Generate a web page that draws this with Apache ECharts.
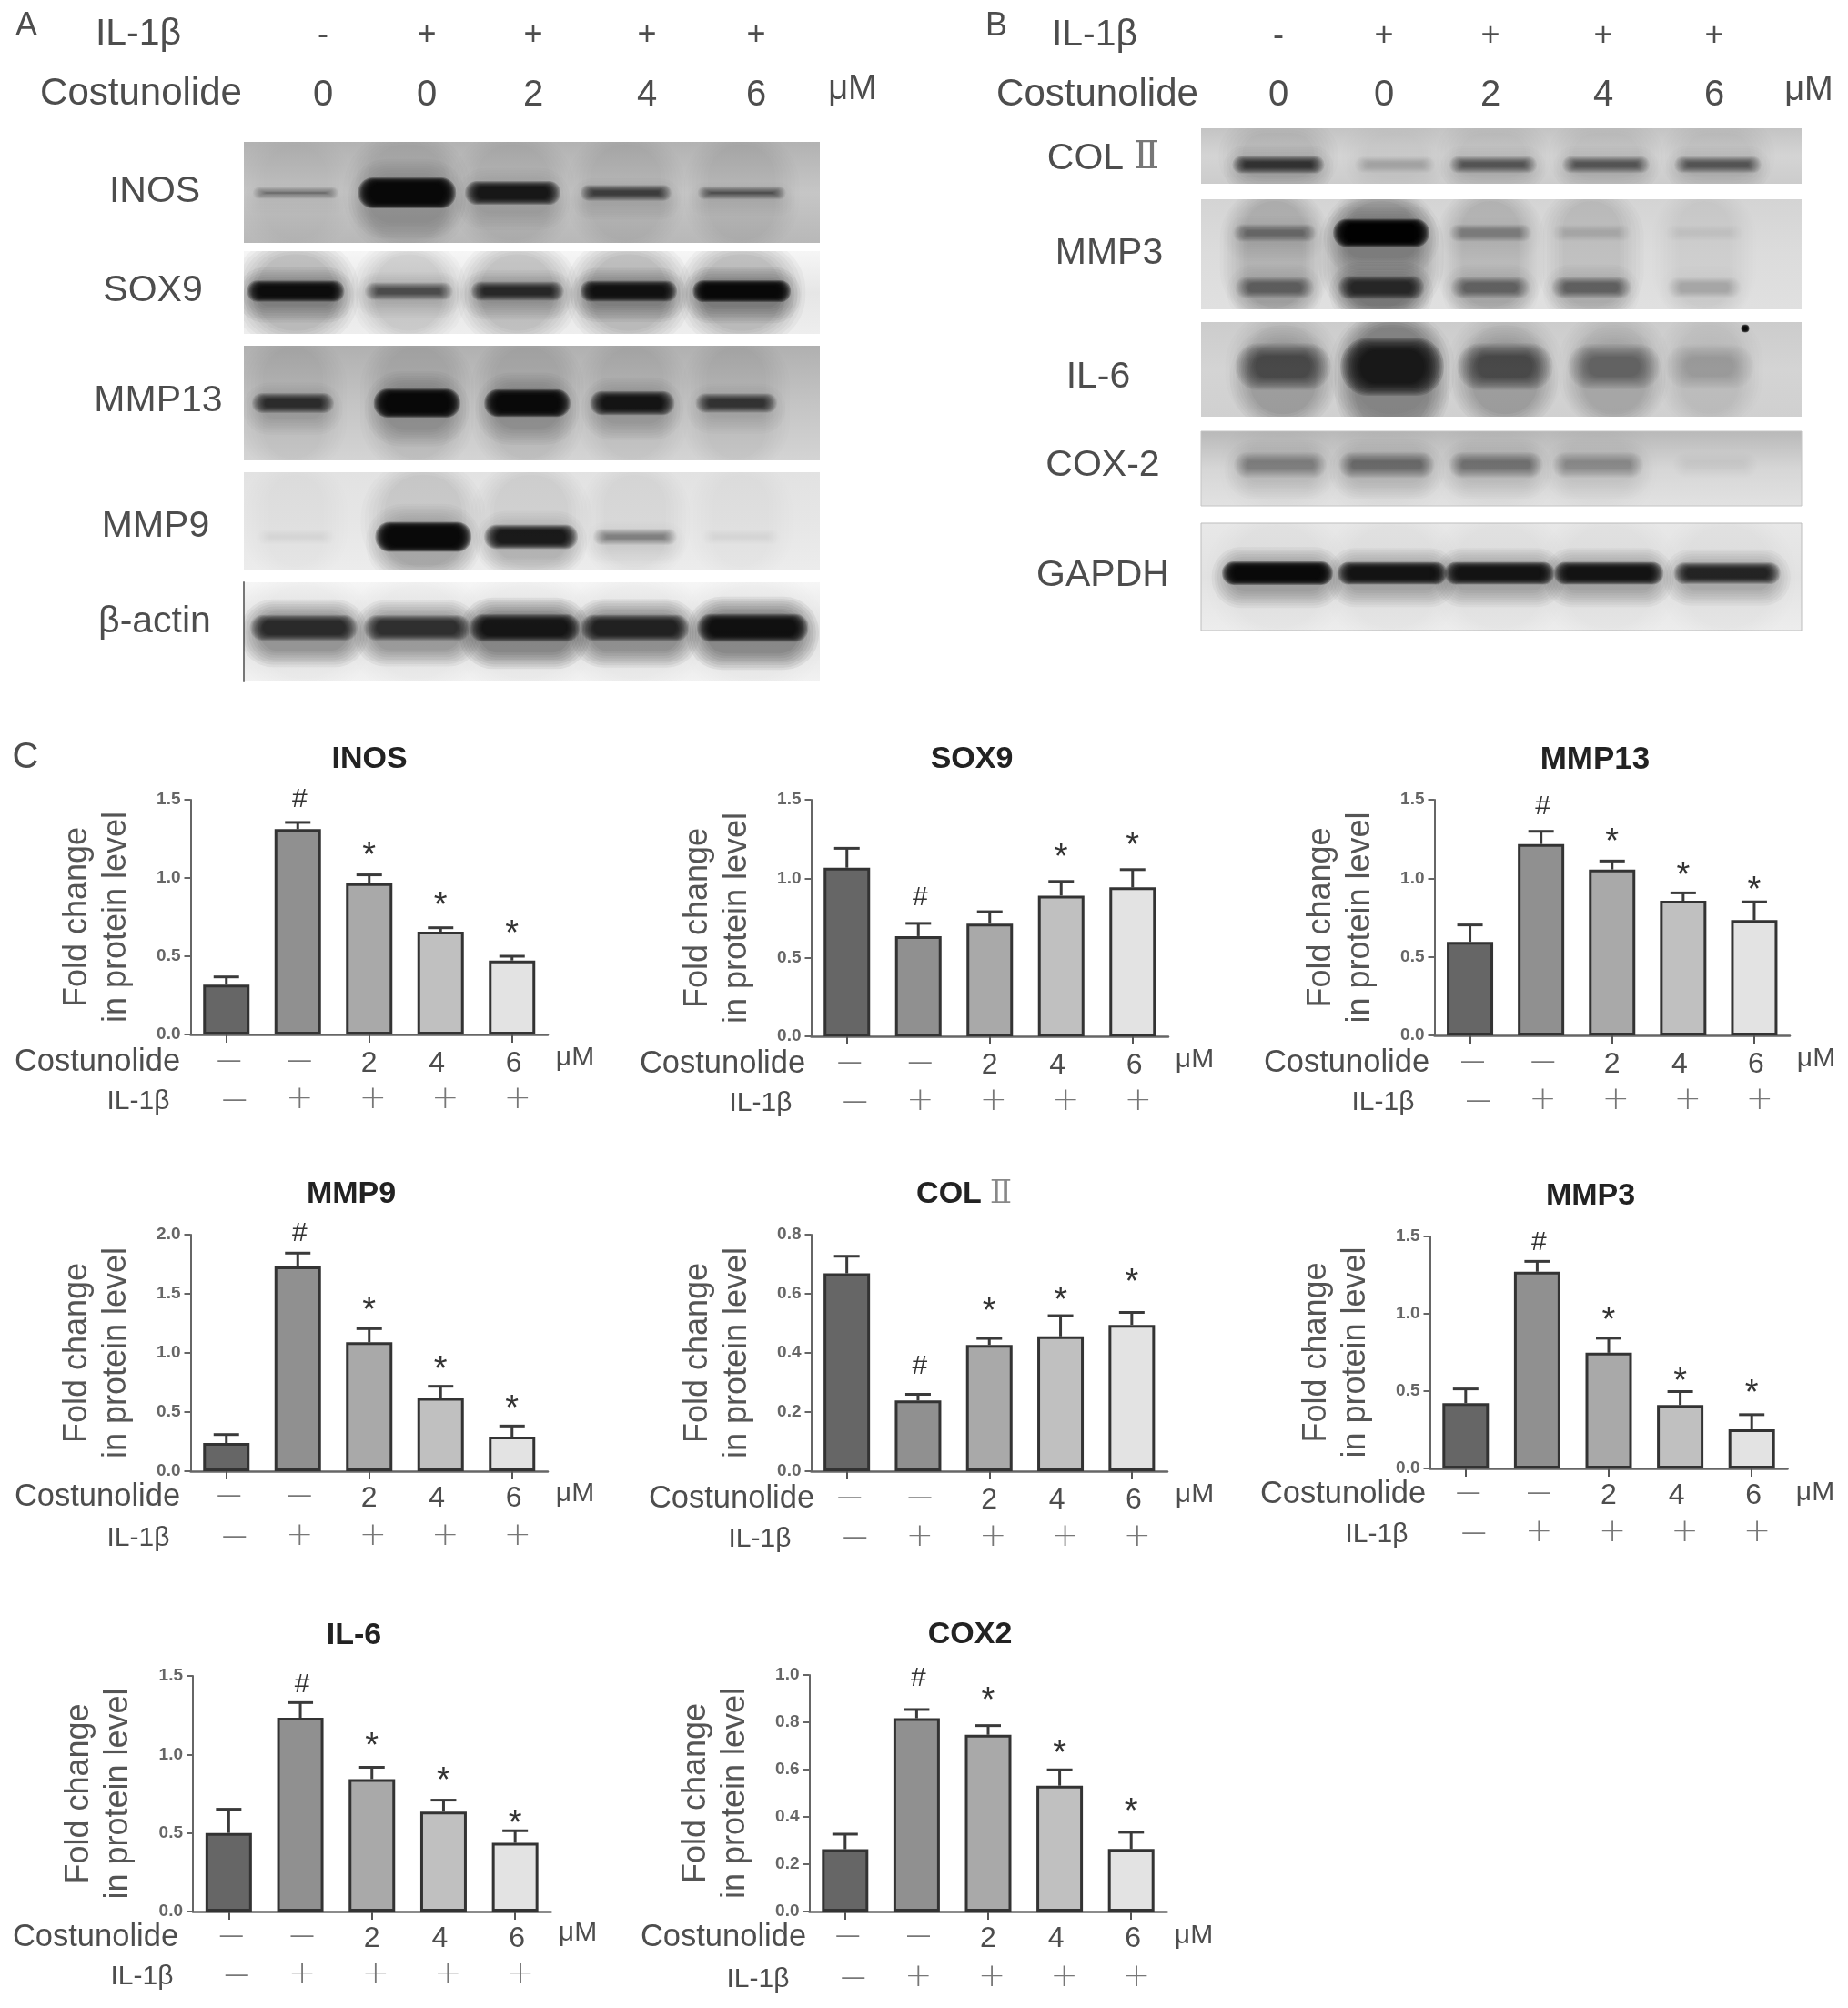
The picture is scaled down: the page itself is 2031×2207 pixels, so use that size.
<!DOCTYPE html>
<html><head><meta charset="utf-8">
<style>html,body{margin:0;padding:0;background:#fff}#c{width:2031px;height:2207px;filter:blur(0.75px)}</style>
<script src="https://cdn.jsdelivr.net/npm/echarts@6/dist/echarts.min.js"></script>
</head><body><div id="c"></div>
<script>
// ---------- DATA: bar charts ----------
const inosValues=[0.318,1.312,0.967,0.657,0.473], inosUpper=[0.368,1.355,1.02,0.682,0.5], inosMarks=[null,1.504,1.176,0.86,0.676];
const sox9Values=[1.069,0.635,0.714,0.892,0.944], sox9Upper=[1.192,0.716,0.79,0.982,1.057], sox9Marks=[null,0.88,null,1.169,1.246];
const mmp13Values=[0.595,1.218,1.056,0.857,0.734], mmp13Upper=[0.703,1.299,1.11,0.907,0.85], mmp13Marks=[null,1.454,1.264,1.052,0.961];
const mmp9Values=[0.238,1.73,1.09,0.62,0.292], mmp9Upper=[0.31,1.844,1.205,0.718,0.382], mmp9Marks=[null,2.01,1.405,0.905,0.572];
const col2Values=[0.669,0.239,0.427,0.456,0.495], col2Upper=[0.727,0.26,0.449,0.526,0.537], col2Marks=[null,0.354,0.559,0.595,0.656];
const mmp3Values=[0.422,1.272,0.748,0.41,0.253], mmp3Upper=[0.514,1.339,0.842,0.497,0.348], mmp3Marks=[null,1.461,0.991,0.599,0.522];
const il6Values=[0.5,1.233,0.843,0.636,0.437], il6Upper=[0.651,1.33,0.918,0.709,0.514], il6Marks=[null,1.442,1.084,0.866,0.595];
const cox2Values=[0.263,0.817,0.747,0.532,0.264], cox2Upper=[0.327,0.854,0.786,0.599,0.335], cox2Marks=[null,0.986,0.912,0.69,0.446];
const barCategories=['Control','IL-1β','IL-1β + 2 μM','IL-1β + 4 μM','IL-1β + 6 μM'];
const barCostunolideLabels=['—','—','2','4','6'];
const barIl1bLabels=['—','+','+','+','+'];
const markSymbols=['','#','*','*','*'];
// ---------- DATA: blot band strengths (0-1) ----------
const blotInos=[.32,1,.86,.62,.45];
const blotSox9=[.95,.45,.72,.92,1];
const blotMmp13=[.7,1,.97,.86,.66];
const blotMmp9=[.04,1,.85,.3,.03];
const blotActin=[.8,.75,.95,.85,1];
const blotCol2=[.75,.12,.5,.5,.48];
const blotMmp3Upper=[.28,1,.22,.06,.04];
const blotMmp3Lower=[.4,.85,.42,.45,.12];
const blotIl6=[.55,1,.55,.38,.15];
const blotIl6Speck=[0,0,0,0,1];
const blotCox2=[.42,.58,.5,.35,.05];
const blotGapdh=[.98,.92,.92,.92,.78];
const blotIl1bLabels=['-','+','+','+','+'];
const blotCostunolideLabels=['0','0','2','4','6'];
// ---------- LAYOUT (no data) ----------
const FONT='"Liberation Sans"';
const barFills=['#666666','#909090','#a9a9a9','#c0c0c0','#e3e3e3'];
const panels=[
 {t:'INOS',v:inosValues,u:inosUpper,m:inosMarks,max:1.5,step:.5,l:209.5,r:602,top:879,base:1137,tx:406,ty:835,cx:107,cy:1167,ix:152,iy:1211,mx:632,my:1163},
 {t:'SOX9',v:sox9Values,u:sox9Upper,m:sox9Marks,max:1.5,step:.5,l:891.5,r:1284,top:879,base:1139,tx:1068,ty:835,cx:794,cy:1169,ix:836,iy:1213,mx:1313,my:1165},
 {t:'MMP13',v:mmp13Values,u:mmp13Upper,m:mmp13Marks,max:1.5,step:.5,l:1576.5,r:1967,top:879,base:1138,tx:1753,ty:835,cx:1480,cy:1168,ix:1520,iy:1212,mx:1996,my:1164},
 {t:'MMP9',v:mmp9Values,u:mmp9Upper,m:mmp9Marks,max:2,step:.5,l:209.5,r:602,top:1357,base:1617,tx:386,ty:1313,cx:107,cy:1645,ix:152,iy:1691,mx:632,my:1642},
 {t:'COL',roman:true,v:col2Values,u:col2Upper,m:col2Marks,max:.8,step:.2,l:891.5,r:1283,top:1357,base:1617,tx:1064,ty:1313,cx:804,cy:1647,ix:835,iy:1692,mx:1313,my:1643},
 {t:'MMP3',v:mmp3Values,u:mmp3Upper,m:mmp3Marks,max:1.5,step:.5,l:1571.5,r:1964.5,top:1359,base:1614,tx:1748,ty:1315,cx:1476,cy:1642,ix:1513,iy:1687,mx:1995,my:1641},
 {t:'IL-6',v:il6Values,u:il6Upper,m:il6Marks,max:1.5,step:.5,l:212,r:605.5,top:1842,base:2101,tx:389,ty:1798,cx:105,cy:2129,ix:156,iy:2173,mx:635,my:2125},
 {t:'COX2',v:cox2Values,u:cox2Upper,m:cox2Marks,max:1,step:.2,l:889.5,r:1282.5,top:1841,base:2101,tx:1066,ty:1797,cx:795,cy:2129,ix:833,iy:2176,mx:1312,my:2128}
];
const costDx=[3,2,0,-4,2], ilDx=[9,2,4,5,6];
const laneA={lane0:325,step:122.3,l:268,r:901}, laneB={lane0:1405,step:121,l:1320,r:1980};
const blots=[
 {lane:laneA,top:156,bottom:267,bg:['#b2b2b2','#c6c6c6','#b8b8b8'],dx:[0,0,-6,-4,1],rows:[{v:blotInos,y:212,h:27,g:.8,w:90,halo:.14,smear:.07}]},
 {lane:laneA,top:276,bottom:367,bg:['#f6f6f6','#e6e6e6','#eeeeee'],dx:[0,2,-1,-1,1],rows:[{v:blotSox9,y:320,h:17,g:.3,w:90,halo:.32,smear:.2}]},
 {lane:laneA,top:380,bottom:506,bg:['#b0b0b0','#c4c4c4','#d4d4d4'],dx:[-3,11,10,3,-5],rows:[{v:blotMmp13,y:443,h:25,g:.6,w:78,halo:.2,smear:.07}]},
 {lane:laneA,top:519,bottom:626,bg:['#e2e2e2','#e6e6e6','#ececec'],dx:[0,18,14,6,0],rows:[{v:blotMmp9,y:590,h:26,g:.6,w:88,halo:.16,smear:.1}]},
 {lane:laneA,top:640,bottom:749,bg:['#f6f6f6','#e2e2e2','#f2f2f2'],dx:[9,11,7,6,13],rows:[{v:blotActin,y:690,h:24,g:.2,w:104,halo:.4,smear:.04,dark:.9}],edge:true},
 {lane:laneB,top:141,bottom:202,bg:['#c4c4c4','#d4d4d4','#cccccc'],dx:[0,7,-6,-3,-1],rows:[{v:blotCol2,y:181,h:14,g:.2,w:88,halo:.2,smear:.08,dark:.9}]},
 {lane:laneB,top:219,bottom:340,bg:['#d4d4d4','#dcdcdc','#e0e0e0'],dx:[-4,-8,-9,-19,-16],rows:[{v:blotMmp3Upper,y:256,h:24,g:.5,w:88,halo:.2,smear:.18},{v:blotMmp3Lower,y:316,h:20,g:.2,w:80,halo:.28,smear:.08,dark:.82}]},
 {lane:laneB,top:354,bottom:458,bg:['#cccccc','#d4d4d4','#d0d0d0'],dx:[5,4,7,6,-10],rows:[{v:blotIl6,y:403,h:50,g:.3,w:88,halo:.25,smear:.12,sy:14,sx:22,dark:.85},{v:blotIl6Speck,y:361,h:6,g:0,w:6,halo:0,smear:0,sy:3,sx:3,shift:39}]},
 {lane:laneB,top:474,bottom:556,bg:['#b8b8b8','#d6d6d6','#e2e2e2'],dx:[2,-2,-3,-12,-4],rows:[{v:blotCox2,y:511,h:20,g:.1,w:96,halo:.2,smear:.03,dark:.62,sy:10}],border:'#c4c4c4'},
 {lane:laneB,top:575,bottom:693,bg:['#e8e8e8','#e2e2e2','#ededed'],dx:[-1,4,1,0,9],rows:[{v:blotGapdh,y:630,h:19,g:.2,w:104,halo:.28,smear:.02}],border:'#bdbdbd'}
];
// ---------- Build ----------
const grid=[],xAxis=[],yAxis=[],series=[];
function softBand(kids,x,y,w,h,sx,sy,alpha,n){
 if(alpha<=0)return;
 const a=1-Math.pow(1-Math.min(alpha,.985),1/n);
 for(let k=0;k<n;k++){
  const f=k/(n-1||1);
  const W=Math.max(2,w+sx*(1-2*f)), H=Math.max(2,h+sy*(1-2*f));
  kids.push({type:'rect',shape:{x:x-W/2,y:y-H/2,width:W,height:H,r:Math.min(H,W)/2.1},style:{fill:'rgba(8,8,8,'+a.toFixed(4)+')'}});
 }
}
function addBlot(b){
 const idx=grid.length, L=b.lane, hpx=b.bottom-b.top;
 grid.push({left:L.l,top:b.top,width:L.r-L.l,height:hpx,show:true,borderWidth:b.border?1:0,borderColor:b.border||'#fff',
   backgroundColor:{type:'linear',x:0,y:0,x2:0,y2:1,colorStops:[{offset:0,color:b.bg[0]},{offset:.5,color:b.bg[1]},{offset:1,color:b.bg[2]}]}});
 xAxis.push({gridIndex:idx,type:'value',min:(L.l-L.lane0)/L.step,max:(L.r-L.lane0)/L.step,show:false});
 yAxis.push({gridIndex:idx,type:'value',min:0,max:1,inverse:true,axisLabel:{show:false},axisTick:{show:false},splitLine:{show:false},
   axisLine:{show:!!b.edge,onZero:false,lineStyle:{color:'#777',width:2}},show:!!b.edge});
 b.rows.forEach(row=>{
  series.push({type:'custom',xAxisIndex:idx,yAxisIndex:idx,clip:true,silent:true,animation:false,
   data:row.v.map((s,i)=>[i,s]).filter(d=>d[1]>0),
   renderItem:(p,api)=>{
    const lane=api.value(0), s=api.value(1);
    const c=api.coord([lane,(row.y-b.top)/hpx]);
    const x=c[0]+b.dx[lane]+(row.shift||0), y=c[1];
    const w=row.w*(.82+.22*s), h=row.h*(1-row.g+row.g*s*s*s);
    const sx=row.sx||14, sy=row.sy||7;
    const A=Math.min(.98,Math.pow(s,.85)*(row.dark||1));
    const kids=[];
    softBand(kids,x,b.top+hpx/2,w*1.22,hpx*1.1,26,16,row.smear*Math.sqrt(s),7);
    softBand(kids,x,y+row.h*.25,w*1.14,h*2.6,22,18,row.halo*s,8);
    softBand(kids,x,y,w,h,sx,sy,A,12);
    return {type:'group',children:kids};
   }});
 });
}
blots.forEach(addBlot);
panels.forEach(P=>{
 const idx=grid.length;
 grid.push({left:P.l,top:P.top,width:P.r-P.l,height:P.base-P.top});
 xAxis.push({gridIndex:idx,type:'category',data:barCategories,axisLabel:{show:false},
   axisTick:{show:true,length:9,alignWithLabel:true,lineStyle:{color:'#555',width:2}},axisLine:{lineStyle:{color:'#666',width:2.5}}});
 yAxis.push({gridIndex:idx,type:'value',min:0,max:P.max,interval:P.step,splitLine:{show:false},
   name:'Fold change\nin protein level',nameLocation:'middle',nameGap:60,nameRotate:90,
   nameTextStyle:{fontFamily:FONT,fontSize:36,color:'#555',lineHeight:43},
   axisLine:{show:true,lineStyle:{color:'#666',width:2}},axisTick:{show:true,length:7,lineStyle:{color:'#666',width:2}},
   axisLabel:{margin:11,fontFamily:FONT,fontSize:19,fontWeight:'bold',color:'#666',formatter:v=>v.toFixed(1)}});
 series.push({type:'bar',xAxisIndex:idx,yAxisIndex:idx,barWidth:51,silent:true,animation:false,
   data:P.v.map((v,i)=>({value:v,itemStyle:{color:barFills[i],borderColor:'#333',borderWidth:3}}))});
 series.push({type:'custom',xAxisIndex:idx,yAxisIndex:idx,clip:false,silent:true,animation:false,z:1,
   data:P.v.map((v,i)=>[i,v,P.u[i]]),
   renderItem:(p,api)=>{
    const a=api.coord([api.value(0),api.value(1)]), b=api.coord([api.value(0),api.value(2)]);
    const st={stroke:'#3a3a3a',lineWidth:3,fill:null};
    return {type:'group',children:[
     {type:'line',shape:{x1:a[0],y1:a[1],x2:b[0],y2:b[1]},style:st},
     {type:'line',shape:{x1:b[0]-14,y1:b[1],x2:b[0]+14,y2:b[1]},style:st}]};
   }});
 series.push({type:'custom',xAxisIndex:idx,yAxisIndex:idx,clip:false,silent:true,animation:false,z:3,
   data:P.m.map((v,i)=>[i,v===null?-9:v]).filter(d=>d[1]>=0),
   renderItem:(p,api)=>{
    const i=api.value(0), c=api.coord([i,api.value(1)]), sym=markSymbols[i];
    return {type:'text',x:c[0]+(sym==='*'?0:2),y:c[1]+(sym==='*'?7:0),style:{text:sym,fontFamily:FONT,fontSize:sym==='*'?38:30,fill:'#333',align:'center',verticalAlign:'middle'}};
   }});
});
const chart=echarts.init(document.getElementById('c'),null,{renderer:'canvas'});
chart.setOption({animation:false,backgroundColor:'#fff',grid,xAxis,yAxis,series});
// ---------- Text ----------
const g=[];
function T(text,x,y,size,o){o=o||{};g.push({type:'text',silent:true,x,y,rotation:0,z:10,style:{text,fontFamily:o.family||FONT,fontSize:size,fontWeight:o.weight||'normal',fill:o.color||'#4d4d4d',align:'center',verticalAlign:'middle'}});}
const ROMAN='"DejaVu Serif"';
T('A',29,29,36);T('B',1095,29,36);T('C',28,833,40);
const lanesA=[355,469,586,711,831], lanesB=[1405,1521,1638,1762,1884];
T('IL-1β',152,38,41);T('Costunolide',155,103,42);T('μM',937,99,38);
blotIl1bLabels.forEach((s,i)=>T(s,lanesA[i],39,36));
blotCostunolideLabels.forEach((s,i)=>T(s,lanesA[i],105,40));
T('IL-1β',1203,39,41);T('Costunolide',1206,104,42);T('μM',1988,100,38);
blotIl1bLabels.forEach((s,i)=>T(s,lanesB[i],40,36));
blotCostunolideLabels.forEach((s,i)=>T(s,lanesB[i],105,40));
[['INOS',170,211],['SOX9',168,320],['MMP13',174,441],['MMP9',171,579],['β-actin',170,684],
 ['MMP3',1219,279],['IL-6',1207,415],['COX-2',1212,512],['GAPDH',1212,633]].forEach(a=>T(a[0],a[1],a[2],41));
T('COL',1193,175,41);T('Ⅱ',1260,174,42,{family:ROMAN,color:'#777'});
panels.forEach((P,k)=>{
 const idx=blots.length+k;
 if(P.roman){T('COL',P.tx-21,P.ty,34,{weight:'bold',color:'#222'});T('Ⅱ',P.tx+36,P.ty,36,{family:ROMAN,color:'#888'});}
 else T(P.t,P.tx,P.ty,P.t.length>4?35:34,{weight:'bold',color:'#222'});
 T('Costunolide',P.cx,P.cy,34.5);T('IL-1β',P.ix,P.iy,30);T('μM',P.mx,P.my,30);
 barCostunolideLabels.forEach((s,i)=>{const x=chart.convertToPixel({xAxisIndex:idx},i)+costDx[i];T(s,x,s==='—'?P.cy-1:P.cy+2,s==='—'?25:32,{color:s==='—'?'#777':'#4d4d4d'});});
 barIl1bLabels.forEach((s,i)=>{const x=chart.convertToPixel({xAxisIndex:idx},i)+ilDx[i];
   if(s==='+')T(s,x,P.iy-2,36,{family:'"DejaVu Sans ExtraLight","DejaVu Sans Light","DejaVu Sans"',color:'#777'});
   else T(s,x,P.iy-2,25,{color:'#777'});});
});
chart.setOption({graphic:g});
</script></body></html>
